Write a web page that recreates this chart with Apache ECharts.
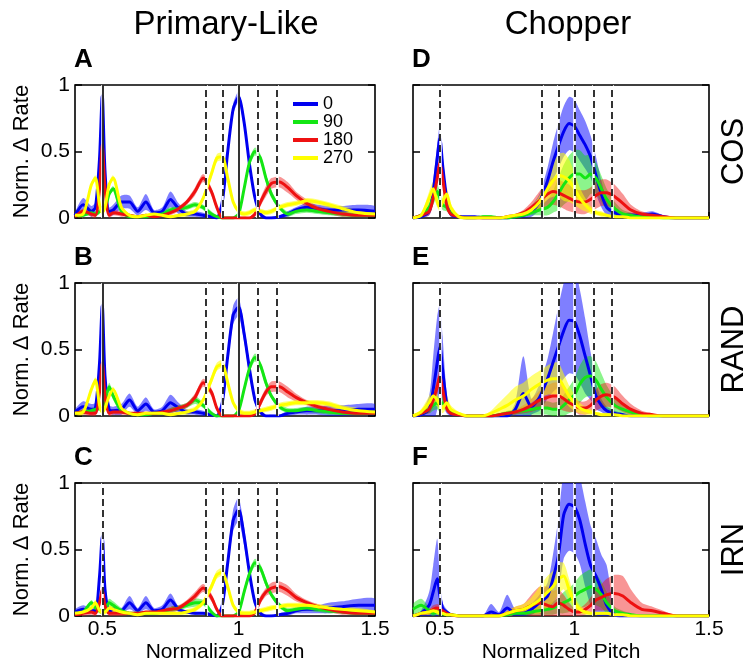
<!DOCTYPE html>
<html>
<head>
<meta charset="utf-8">
<script src="https://cdn.jsdelivr.net/npm/echarts@6/dist/echarts.min.js"></script>
<style>
    html, body { margin: 0; padding: 0; background: #fff; }
    #chart { width: 751px; height: 667px; }
</style>
</head>
<body>
<div id="chart"></div>
<script>
// normalized pitch sample points shared by every curve
const pitch = [
    0.40, 0.43, 0.46, 0.475, 0.49, 0.50, 0.51, 0.525, 0.54, 0.57,
    0.60, 0.63, 0.66, 0.69, 0.72, 0.75, 0.78, 0.81, 0.84, 0.87,
    0.90, 0.92, 0.94, 0.96, 0.98, 1.00, 1.02, 1.04, 1.06, 1.08,
    1.10, 1.12, 1.15, 1.18, 1.21, 1.25, 1.29, 1.33, 1.38, 1.44, 1.50,
]
const refPitches = [0.5, 0.875, 0.9375, 1, 1.0667, 1.1429]
const xTicks = [0.5, 1, 1.5]
const phases = ['0', '90', '180', '270']
const columnTitles = ['Primary-Like', 'Chopper']
const stimulusLabels = ['COS', 'RAND', 'IRN']
const panelKeys = ['A', 'B', 'C', 'D', 'E', 'F']

// --- Primary-Like, COS ---
const A_0 = [
    0.02, 0.10, 0.05, 0.08, 0.45, 0.92, 0.35, 0.05, 0.06, 0.12,
    0.12, 0.05, 0.12, 0.04, 0.05, 0.14, 0.07, 0.03, 0.03, 0.02,
    0.01, 0.00, 0.12, 0.50, 0.82, 0.91, 0.72, 0.40, 0.15, 0.03,
    0.00, 0.00, 0.01, 0.03, 0.06, 0.08, 0.07, 0.06, 0.06, 0.06, 0.05,
]
const A_0_err = [
    0.02, 0.05, 0.04, 0.04, 0.04, 0.04, 0.04, 0.03, 0.04, 0.05,
    0.05, 0.03, 0.06, 0.02, 0.03, 0.06, 0.04, 0.02, 0.02, 0.02,
    0.01, 0.01, 0.03, 0.04, 0.04, 0.04, 0.04, 0.04, 0.03, 0.02,
    0.01, 0.01, 0.01, 0.02, 0.02, 0.03, 0.03, 0.03, 0.03, 0.04, 0.04,
]
const A_90 = [
    0.02, 0.02, 0.04, 0.03, 0.05, 0.08, 0.08, 0.18, 0.22, 0.05,
    0.01, 0.01, 0.01, 0.02, 0.03, 0.06, 0.07, 0.08, 0.10, 0.08,
    0.03, 0.01, 0.00, 0.00, 0.00, 0.03, 0.22, 0.42, 0.50, 0.45,
    0.30, 0.18, 0.08, 0.03, 0.05, 0.06, 0.05, 0.04, 0.03, 0.02, 0.02,
]
const A_90_err = [
    0.01, 0.01, 0.02, 0.02, 0.02, 0.02, 0.02, 0.02, 0.02, 0.01,
    0.01, 0.01, 0.01, 0.01, 0.02, 0.02, 0.02, 0.02, 0.02, 0.02,
    0.02, 0.01, 0.01, 0.01, 0.01, 0.02, 0.03, 0.03, 0.03, 0.03,
    0.03, 0.03, 0.02, 0.02, 0.02, 0.02, 0.02, 0.02, 0.02, 0.01, 0.01,
]
const A_180 = [
    0.01, 0.05, 0.03, 0.02, 0.22, 0.55, 0.22, 0.02, 0.04, 0.03,
    0.02, 0.01, 0.02, 0.01, 0.02, 0.04, 0.07, 0.12, 0.20, 0.30,
    0.20, 0.08, 0.00, 0.00, 0.00, 0.00, 0.00, 0.00, 0.03, 0.12,
    0.20, 0.26, 0.27, 0.23, 0.17, 0.11, 0.07, 0.05, 0.03, 0.02, 0.02,
]
const A_180_err = [
    0.01, 0.02, 0.02, 0.02, 0.03, 0.03, 0.03, 0.02, 0.02, 0.02,
    0.01, 0.01, 0.01, 0.01, 0.01, 0.02, 0.02, 0.02, 0.03, 0.03,
    0.03, 0.02, 0.01, 0.01, 0.01, 0.01, 0.01, 0.01, 0.02, 0.03,
    0.04, 0.04, 0.04, 0.04, 0.03, 0.03, 0.02, 0.02, 0.02, 0.01, 0.01,
]
const A_270 = [
    0.02, 0.03, 0.25, 0.30, 0.10, 0.04, 0.08, 0.25, 0.30, 0.08,
    0.02, 0.01, 0.02, 0.03, 0.02, 0.01, 0.02, 0.03, 0.05, 0.15,
    0.33, 0.45, 0.46, 0.30, 0.12, 0.05, 0.03, 0.04, 0.06, 0.05,
    0.04, 0.05, 0.08, 0.10, 0.11, 0.13, 0.12, 0.10, 0.07, 0.04, 0.03,
]
const A_270_err = [
    0.01, 0.02, 0.02, 0.02, 0.02, 0.02, 0.02, 0.02, 0.02, 0.02,
    0.01, 0.01, 0.01, 0.01, 0.01, 0.01, 0.01, 0.02, 0.02, 0.02,
    0.03, 0.03, 0.03, 0.03, 0.02, 0.02, 0.02, 0.02, 0.02, 0.02,
    0.02, 0.02, 0.02, 0.02, 0.02, 0.02, 0.02, 0.02, 0.02, 0.02, 0.01,
]

// --- Primary-Like, RAND ---
const B_0 = [
    0.03, 0.07, 0.05, 0.06, 0.40, 0.83, 0.30, 0.05, 0.04, 0.05,
    0.12, 0.04, 0.09, 0.03, 0.04, 0.10, 0.06, 0.03, 0.03, 0.02,
    0.01, 0.00, 0.10, 0.45, 0.76, 0.82, 0.62, 0.35, 0.12, 0.03,
    0.00, 0.00, 0.00, 0.02, 0.03, 0.04, 0.04, 0.04, 0.04, 0.05, 0.05,
]
const B_0_err = [
    0.02, 0.04, 0.04, 0.04, 0.05, 0.05, 0.05, 0.03, 0.03, 0.04,
    0.05, 0.03, 0.05, 0.02, 0.03, 0.06, 0.04, 0.02, 0.02, 0.02,
    0.01, 0.01, 0.03, 0.05, 0.07, 0.07, 0.06, 0.05, 0.03, 0.02,
    0.01, 0.01, 0.01, 0.02, 0.02, 0.03, 0.03, 0.04, 0.04, 0.04, 0.04,
]
const B_90 = [
    0.02, 0.03, 0.04, 0.05, 0.06, 0.05, 0.10, 0.22, 0.15, 0.04,
    0.02, 0.01, 0.01, 0.02, 0.02, 0.04, 0.06, 0.08, 0.12, 0.08,
    0.02, 0.00, 0.00, 0.00, 0.00, 0.04, 0.20, 0.36, 0.44, 0.38,
    0.25, 0.15, 0.07, 0.04, 0.04, 0.05, 0.04, 0.03, 0.02, 0.02, 0.02,
]
const B_90_err = [
    0.01, 0.01, 0.02, 0.02, 0.02, 0.02, 0.02, 0.03, 0.03, 0.02,
    0.01, 0.01, 0.01, 0.01, 0.01, 0.02, 0.02, 0.02, 0.03, 0.02,
    0.02, 0.01, 0.01, 0.01, 0.01, 0.02, 0.03, 0.03, 0.03, 0.03,
    0.03, 0.02, 0.02, 0.02, 0.02, 0.02, 0.02, 0.02, 0.01, 0.01, 0.01,
]
const B_180 = [
    0.02, 0.03, 0.02, 0.02, 0.18, 0.40, 0.15, 0.02, 0.03, 0.03,
    0.02, 0.02, 0.02, 0.02, 0.03, 0.04, 0.06, 0.08, 0.14, 0.25,
    0.18, 0.06, 0.00, 0.00, 0.00, 0.00, 0.00, 0.00, 0.02, 0.10,
    0.18, 0.22, 0.22, 0.18, 0.14, 0.10, 0.07, 0.05, 0.03, 0.02, 0.02,
]
const B_180_err = [
    0.01, 0.02, 0.02, 0.02, 0.04, 0.04, 0.03, 0.02, 0.02, 0.02,
    0.01, 0.01, 0.01, 0.01, 0.01, 0.02, 0.02, 0.02, 0.03, 0.03,
    0.03, 0.02, 0.01, 0.01, 0.01, 0.01, 0.01, 0.01, 0.02, 0.03,
    0.03, 0.04, 0.04, 0.04, 0.03, 0.02, 0.02, 0.02, 0.02, 0.01, 0.01,
]
const B_270 = [
    0.02, 0.03, 0.20, 0.27, 0.08, 0.03, 0.06, 0.15, 0.20, 0.06,
    0.02, 0.01, 0.02, 0.02, 0.02, 0.01, 0.02, 0.03, 0.05, 0.12,
    0.27, 0.37, 0.39, 0.25, 0.10, 0.04, 0.02, 0.02, 0.03, 0.04,
    0.05, 0.06, 0.08, 0.09, 0.10, 0.10, 0.10, 0.09, 0.06, 0.04, 0.03,
]
const B_270_err = [
    0.01, 0.02, 0.02, 0.02, 0.02, 0.02, 0.02, 0.02, 0.02, 0.02,
    0.01, 0.01, 0.01, 0.01, 0.01, 0.01, 0.01, 0.02, 0.02, 0.02,
    0.03, 0.03, 0.03, 0.03, 0.02, 0.02, 0.02, 0.02, 0.02, 0.02,
    0.02, 0.02, 0.02, 0.02, 0.02, 0.02, 0.02, 0.02, 0.02, 0.02, 0.01,
]

// --- Primary-Like, IRN ---
const C_0 = [
    0.03, 0.05, 0.04, 0.04, 0.30, 0.60, 0.20, 0.03, 0.05, 0.04,
    0.10, 0.04, 0.10, 0.04, 0.05, 0.12, 0.05, 0.03, 0.02, 0.02,
    0.01, 0.00, 0.08, 0.40, 0.72, 0.80, 0.60, 0.32, 0.10, 0.02,
    0.00, 0.00, 0.01, 0.02, 0.04, 0.05, 0.05, 0.06, 0.07, 0.08, 0.08,
]
const C_0_err = [
    0.02, 0.03, 0.02, 0.03, 0.05, 0.05, 0.05, 0.02, 0.02, 0.02,
    0.05, 0.02, 0.05, 0.02, 0.03, 0.05, 0.02, 0.01, 0.01, 0.01,
    0.01, 0.01, 0.02, 0.05, 0.08, 0.09, 0.07, 0.04, 0.03, 0.02,
    0.01, 0.01, 0.01, 0.02, 0.02, 0.03, 0.03, 0.04, 0.04, 0.05, 0.05,
]
const C_90 = [
    0.02, 0.03, 0.10, 0.06, 0.04, 0.03, 0.05, 0.10, 0.08, 0.04,
    0.02, 0.02, 0.02, 0.02, 0.03, 0.05, 0.06, 0.08, 0.10, 0.10,
    0.03, 0.00, 0.00, 0.00, 0.00, 0.03, 0.18, 0.32, 0.40, 0.36,
    0.25, 0.16, 0.08, 0.04, 0.05, 0.06, 0.05, 0.04, 0.03, 0.02, 0.02,
]
const C_90_err = [
    0.01, 0.01, 0.02, 0.02, 0.02, 0.02, 0.02, 0.03, 0.03, 0.02,
    0.01, 0.01, 0.01, 0.01, 0.01, 0.02, 0.02, 0.02, 0.03, 0.02,
    0.02, 0.01, 0.01, 0.01, 0.01, 0.02, 0.03, 0.03, 0.03, 0.03,
    0.03, 0.02, 0.02, 0.02, 0.02, 0.02, 0.02, 0.02, 0.01, 0.01, 0.01,
]
const C_180 = [
    0.01, 0.02, 0.03, 0.02, 0.10, 0.20, 0.08, 0.02, 0.02, 0.02,
    0.02, 0.02, 0.03, 0.03, 0.04, 0.05, 0.06, 0.10, 0.15, 0.21,
    0.14, 0.05, 0.00, 0.00, 0.00, 0.00, 0.00, 0.00, 0.03, 0.12,
    0.18, 0.21, 0.22, 0.19, 0.14, 0.10, 0.07, 0.05, 0.03, 0.02, 0.02,
]
const C_180_err = [
    0.01, 0.02, 0.02, 0.02, 0.04, 0.04, 0.03, 0.02, 0.02, 0.02,
    0.01, 0.01, 0.01, 0.01, 0.01, 0.02, 0.02, 0.02, 0.03, 0.03,
    0.03, 0.02, 0.01, 0.01, 0.01, 0.01, 0.01, 0.01, 0.02, 0.03,
    0.03, 0.04, 0.04, 0.04, 0.03, 0.02, 0.02, 0.02, 0.02, 0.01, 0.01,
]
const C_270 = [
    0.02, 0.03, 0.06, 0.10, 0.04, 0.03, 0.03, 0.06, 0.05, 0.03,
    0.02, 0.01, 0.02, 0.02, 0.02, 0.02, 0.02, 0.03, 0.05, 0.10,
    0.22, 0.31, 0.33, 0.22, 0.08, 0.03, 0.02, 0.02, 0.03, 0.04,
    0.05, 0.06, 0.07, 0.08, 0.08, 0.08, 0.07, 0.06, 0.05, 0.04, 0.03,
]
const C_270_err = [
    0.01, 0.02, 0.02, 0.02, 0.02, 0.02, 0.02, 0.02, 0.02, 0.02,
    0.01, 0.01, 0.01, 0.01, 0.01, 0.01, 0.01, 0.02, 0.02, 0.02,
    0.03, 0.03, 0.03, 0.03, 0.02, 0.02, 0.02, 0.02, 0.02, 0.02,
    0.02, 0.02, 0.02, 0.02, 0.02, 0.02, 0.02, 0.02, 0.02, 0.02, 0.01,
]

// --- Chopper, COS ---
const D_0 = [
    0.00, 0.01, 0.05, 0.20, 0.45, 0.60, 0.40, 0.15, 0.03, 0.01,
    0.01, 0.01, 0.00, 0.00, 0.00, 0.00, 0.01, 0.02, 0.05, 0.12,
    0.28, 0.42, 0.54, 0.65, 0.71, 0.69, 0.62, 0.55, 0.46, 0.32,
    0.18, 0.08, 0.04, 0.02, 0.02, 0.02, 0.03, 0.01, 0.00, 0.00, 0.00,
]
const D_0_err = [
    0.00, 0.01, 0.03, 0.08, 0.10, 0.10, 0.08, 0.05, 0.02, 0.01,
    0.00, 0.00, 0.00, 0.00, 0.00, 0.00, 0.01, 0.02, 0.04, 0.06,
    0.10, 0.14, 0.17, 0.19, 0.20, 0.20, 0.19, 0.18, 0.16, 0.14,
    0.10, 0.06, 0.03, 0.02, 0.02, 0.02, 0.02, 0.01, 0.00, 0.00, 0.00,
]
const D_90 = [
    0.00, 0.02, 0.08, 0.15, 0.20, 0.15, 0.10, 0.08, 0.04, 0.01,
    0.00, 0.00, 0.01, 0.01, 0.00, 0.00, 0.01, 0.02, 0.04, 0.06,
    0.08, 0.12, 0.18, 0.25, 0.30, 0.33, 0.33, 0.30, 0.33, 0.30,
    0.22, 0.14, 0.07, 0.03, 0.02, 0.01, 0.01, 0.00, 0.00, 0.00, 0.00,
]
const D_90_err = [
    0.00, 0.01, 0.04, 0.05, 0.05, 0.05, 0.04, 0.03, 0.02, 0.01,
    0.00, 0.00, 0.01, 0.01, 0.00, 0.00, 0.01, 0.01, 0.02, 0.04,
    0.06, 0.08, 0.12, 0.15, 0.17, 0.18, 0.18, 0.17, 0.15, 0.12,
    0.10, 0.08, 0.05, 0.03, 0.02, 0.01, 0.01, 0.00, 0.00, 0.00, 0.00,
]
const D_180 = [
    0.00, 0.02, 0.05, 0.15, 0.30, 0.42, 0.30, 0.10, 0.03, 0.01,
    0.00, 0.00, 0.00, 0.00, 0.00, 0.01, 0.02, 0.04, 0.08, 0.13,
    0.18, 0.20, 0.19, 0.17, 0.15, 0.13, 0.12, 0.12, 0.14, 0.17,
    0.19, 0.19, 0.16, 0.11, 0.06, 0.03, 0.02, 0.01, 0.00, 0.00, 0.00,
]
const D_180_err = [
    0.00, 0.01, 0.03, 0.05, 0.06, 0.06, 0.05, 0.03, 0.01, 0.00,
    0.00, 0.00, 0.00, 0.00, 0.00, 0.01, 0.01, 0.02, 0.04, 0.07,
    0.09, 0.10, 0.10, 0.10, 0.10, 0.09, 0.09, 0.09, 0.09, 0.10,
    0.10, 0.10, 0.09, 0.07, 0.04, 0.02, 0.01, 0.01, 0.00, 0.00, 0.00,
]
const D_270 = [
    0.00, 0.02, 0.15, 0.22, 0.12, 0.08, 0.12, 0.18, 0.08, 0.01,
    0.00, 0.00, 0.00, 0.00, 0.00, 0.01, 0.02, 0.03, 0.06, 0.12,
    0.22, 0.28, 0.32, 0.31, 0.28, 0.22, 0.15, 0.10, 0.06, 0.04,
    0.03, 0.02, 0.01, 0.01, 0.00, 0.00, 0.00, 0.00, 0.00, 0.00, 0.00,
]
const D_270_err = [
    0.00, 0.01, 0.05, 0.05, 0.04, 0.03, 0.04, 0.05, 0.03, 0.01,
    0.00, 0.00, 0.00, 0.00, 0.00, 0.01, 0.01, 0.02, 0.03, 0.05,
    0.08, 0.12, 0.16, 0.18, 0.16, 0.12, 0.08, 0.05, 0.03, 0.02,
    0.02, 0.01, 0.01, 0.01, 0.00, 0.00, 0.00, 0.00, 0.00, 0.00, 0.00,
]

// --- Chopper, RAND ---
const E_0 = [
    0.00, 0.01, 0.05, 0.20, 0.40, 0.52, 0.35, 0.10, 0.02, 0.01,
    0.00, 0.00, 0.00, 0.00, 0.00, 0.00, 0.05, 0.17, 0.07, 0.14,
    0.28, 0.40, 0.52, 0.64, 0.72, 0.71, 0.60, 0.45, 0.30, 0.15,
    0.08, 0.04, 0.02, 0.01, 0.00, 0.00, 0.00, 0.00, 0.00, 0.00, 0.00,
]
const E_0_err = [
    0.00, 0.02, 0.10, 0.25, 0.35, 0.32, 0.25, 0.08, 0.02, 0.01,
    0.00, 0.00, 0.00, 0.00, 0.00, 0.00, 0.05, 0.28, 0.06, 0.10,
    0.15, 0.22, 0.30, 0.36, 0.40, 0.40, 0.35, 0.28, 0.18, 0.10,
    0.05, 0.03, 0.02, 0.01, 0.00, 0.00, 0.00, 0.00, 0.00, 0.00, 0.00,
]
const E_90 = [
    0.00, 0.02, 0.05, 0.08, 0.10, 0.08, 0.10, 0.08, 0.04, 0.01,
    0.00, 0.00, 0.00, 0.00, 0.01, 0.02, 0.03, 0.04, 0.05, 0.06,
    0.06, 0.05, 0.05, 0.08, 0.12, 0.16, 0.24, 0.29, 0.30, 0.27,
    0.20, 0.14, 0.08, 0.05, 0.03, 0.01, 0.00, 0.00, 0.00, 0.00, 0.00,
]
const E_90_err = [
    0.00, 0.01, 0.03, 0.04, 0.05, 0.05, 0.05, 0.04, 0.02, 0.01,
    0.00, 0.00, 0.00, 0.00, 0.01, 0.02, 0.02, 0.03, 0.04, 0.05,
    0.05, 0.05, 0.06, 0.08, 0.10, 0.12, 0.14, 0.15, 0.15, 0.14,
    0.12, 0.09, 0.06, 0.04, 0.02, 0.01, 0.00, 0.00, 0.00, 0.00, 0.00,
]
const E_180 = [
    0.00, 0.02, 0.05, 0.12, 0.22, 0.30, 0.20, 0.06, 0.02, 0.01,
    0.00, 0.00, 0.00, 0.00, 0.01, 0.02, 0.03, 0.05, 0.08, 0.12,
    0.14, 0.15, 0.15, 0.13, 0.10, 0.08, 0.06, 0.06, 0.08, 0.12,
    0.15, 0.16, 0.14, 0.09, 0.05, 0.02, 0.01, 0.00, 0.00, 0.00, 0.00,
]
const E_180_err = [
    0.00, 0.01, 0.03, 0.05, 0.06, 0.06, 0.05, 0.03, 0.01, 0.01,
    0.00, 0.00, 0.00, 0.00, 0.01, 0.01, 0.02, 0.03, 0.05, 0.07,
    0.09, 0.10, 0.10, 0.09, 0.07, 0.05, 0.05, 0.05, 0.06, 0.08,
    0.09, 0.09, 0.08, 0.06, 0.04, 0.02, 0.01, 0.00, 0.00, 0.00, 0.00,
]
const E_270 = [
    0.00, 0.03, 0.10, 0.15, 0.12, 0.08, 0.06, 0.10, 0.05, 0.02,
    0.00, 0.00, 0.00, 0.02, 0.05, 0.08, 0.12, 0.15, 0.20, 0.24,
    0.27, 0.28, 0.28, 0.22, 0.15, 0.10, 0.06, 0.04, 0.03, 0.02,
    0.01, 0.01, 0.01, 0.00, 0.00, 0.00, 0.00, 0.00, 0.00, 0.00, 0.00,
]
const E_270_err = [
    0.00, 0.02, 0.05, 0.06, 0.05, 0.04, 0.04, 0.05, 0.03, 0.01,
    0.00, 0.00, 0.00, 0.02, 0.05, 0.08, 0.10, 0.10, 0.10, 0.10,
    0.11, 0.12, 0.12, 0.10, 0.08, 0.06, 0.04, 0.03, 0.02, 0.01,
    0.01, 0.01, 0.01, 0.00, 0.00, 0.00, 0.00, 0.00, 0.00, 0.00, 0.00,
]

// --- Chopper, IRN ---
const F_0 = [
    0.00, 0.02, 0.08, 0.18, 0.28, 0.15, 0.06, 0.03, 0.01, 0.00,
    0.00, 0.00, 0.00, 0.03, 0.01, 0.06, 0.02, 0.02, 0.05, 0.10,
    0.15, 0.28, 0.45, 0.76, 0.84, 0.82, 0.72, 0.54, 0.38, 0.30,
    0.20, 0.08, 0.01, 0.00, 0.00, 0.00, 0.00, 0.00, 0.00, 0.00, 0.00,
]
const F_0_err = [
    0.00, 0.02, 0.10, 0.20, 0.30, 0.12, 0.04, 0.02, 0.01, 0.00,
    0.00, 0.00, 0.00, 0.06, 0.02, 0.10, 0.03, 0.02, 0.04, 0.06,
    0.10, 0.18, 0.28, 0.33, 0.35, 0.35, 0.33, 0.32, 0.30, 0.28,
    0.26, 0.30, 0.02, 0.00, 0.00, 0.00, 0.00, 0.00, 0.00, 0.00, 0.00,
]
const F_90 = [
    0.05, 0.08, 0.04, 0.02, 0.03, 0.02, 0.02, 0.01, 0.01, 0.00,
    0.00, 0.00, 0.00, 0.00, 0.00, 0.01, 0.02, 0.02, 0.03, 0.04,
    0.05, 0.06, 0.08, 0.10, 0.12, 0.15, 0.18, 0.20, 0.22, 0.20,
    0.16, 0.10, 0.04, 0.02, 0.01, 0.00, 0.00, 0.00, 0.00, 0.00, 0.00,
]
const F_90_err = [
    0.04, 0.05, 0.03, 0.02, 0.02, 0.02, 0.02, 0.01, 0.01, 0.00,
    0.00, 0.00, 0.00, 0.00, 0.00, 0.01, 0.01, 0.01, 0.02, 0.03,
    0.04, 0.05, 0.06, 0.08, 0.09, 0.10, 0.12, 0.13, 0.13, 0.12,
    0.10, 0.08, 0.03, 0.02, 0.01, 0.00, 0.00, 0.00, 0.00, 0.00, 0.00,
]
const F_180 = [
    0.00, 0.02, 0.03, 0.05, 0.06, 0.05, 0.04, 0.02, 0.01, 0.00,
    0.00, 0.00, 0.00, 0.00, 0.00, 0.02, 0.04, 0.05, 0.08, 0.10,
    0.08, 0.07, 0.10, 0.08, 0.05, 0.03, 0.03, 0.05, 0.08, 0.12,
    0.14, 0.16, 0.17, 0.15, 0.10, 0.05, 0.04, 0.02, 0.00, 0.00, 0.00,
]
const F_180_err = [
    0.00, 0.01, 0.02, 0.03, 0.03, 0.03, 0.02, 0.01, 0.01, 0.00,
    0.00, 0.00, 0.00, 0.00, 0.00, 0.02, 0.03, 0.04, 0.08, 0.12,
    0.14, 0.12, 0.10, 0.08, 0.05, 0.03, 0.03, 0.04, 0.06, 0.08,
    0.10, 0.12, 0.14, 0.15, 0.10, 0.05, 0.03, 0.02, 0.00, 0.00, 0.00,
]
const F_270 = [
    0.00, 0.02, 0.03, 0.04, 0.03, 0.02, 0.02, 0.01, 0.01, 0.00,
    0.00, 0.00, 0.00, 0.00, 0.00, 0.02, 0.04, 0.05, 0.08, 0.12,
    0.18, 0.22, 0.28, 0.30, 0.20, 0.10, 0.05, 0.03, 0.02, 0.02,
    0.02, 0.02, 0.01, 0.01, 0.00, 0.00, 0.00, 0.00, 0.00, 0.00, 0.00,
]
const F_270_err = [
    0.00, 0.01, 0.02, 0.02, 0.02, 0.01, 0.01, 0.01, 0.01, 0.00,
    0.00, 0.00, 0.00, 0.00, 0.00, 0.02, 0.03, 0.04, 0.06, 0.10,
    0.12, 0.12, 0.12, 0.10, 0.08, 0.05, 0.03, 0.02, 0.01, 0.01,
    0.01, 0.01, 0.01, 0.01, 0.00, 0.00, 0.00, 0.00, 0.00, 0.00, 0.00,
]

const panelCurves = [
    [[A_0, A_0_err], [A_90, A_90_err], [A_180, A_180_err], [A_270, A_270_err]],
    [[B_0, B_0_err], [B_90, B_90_err], [B_180, B_180_err], [B_270, B_270_err]],
    [[C_0, C_0_err], [C_90, C_90_err], [C_180, C_180_err], [C_270, C_270_err]],
    [[D_0, D_0_err], [D_90, D_90_err], [D_180, D_180_err], [D_270, D_270_err]],
    [[E_0, E_0_err], [E_90, E_90_err], [E_180, E_180_err], [E_270, E_270_err]],
    [[F_0, F_0_err], [F_90, F_90_err], [F_180, F_180_err], [F_270, F_270_err]],
]

const FONT = '"Liberation Sans", Arial, Helvetica, sans-serif'
const lineColors = ['#0000f0', '#14e614', '#ee1111', '#ffff00']
const bandColors = ['rgba(0,0,255,0.5)', 'rgba(0,230,0,0.45)', 'rgba(240,20,20,0.45)', 'rgba(255,255,0,0.55)']
const panelLefts = [75, 413]
const panelTops = [85, 283, 483]
const panelWidth = 300
const panelHeight = 133
// in the top two Primary-Like panels the 0.5 and 1 guides are solid
const solidGuides = { A: [0.5, 1], B: [0.5, 1] }

const chart = echarts.init(document.getElementById('chart'))

const grids = []
const xAxes = []
const yAxes = []
const series = []
const graphics = []

panelKeys.forEach((key, p) => {
    const col = Math.floor(p / 3)
    const row = p % 3
    const isLeft = col === 0
    const isBottom = row === 2

    grids.push({
        left: panelLefts[col],
        top: panelTops[row],
        width: panelWidth,
        height: panelHeight,
        show: true,
        borderColor: '#000',
        borderWidth: 1.6,
        backgroundColor: 'transparent',
    })

    xAxes.push({
        gridIndex: p,
        type: 'value',
        min: 0.4,
        max: 1.5,
        axisLine: { show: false },
        axisTick: { show: true, inside: true, length: 6, customValues: xTicks, lineStyle: { color: '#000', width: 1.5 } },
        axisLabel: { show: isBottom, customValues: xTicks, color: '#000', fontSize: 21, fontFamily: FONT, margin: 3 },
        splitLine: { show: false },
        name: isBottom ? 'Normalized Pitch' : '',
        nameLocation: 'middle',
        nameGap: 26,
        nameTextStyle: { color: '#000', fontSize: 21, fontFamily: FONT },
    })

    yAxes.push({
        gridIndex: p,
        type: 'value',
        min: 0,
        max: 1,
        interval: 0.5,
        position: 'left',
        axisLine: { show: false },
        axisTick: { show: true, inside: true, length: 7, lineStyle: { color: '#000', width: 1.5 } },
        axisLabel: { show: isLeft, color: '#000', fontSize: 21, fontFamily: FONT, margin: 5 },
        splitLine: { show: false },
        name: isLeft ? 'Norm. Δ Rate' : '',
        nameLocation: 'middle',
        nameGap: 42,
        nameTextStyle: { color: '#000', fontSize: 22, fontFamily: FONT },
    })
    yAxes.push({
        gridIndex: p,
        type: 'value',
        min: 0,
        max: 1,
        interval: 0.5,
        position: 'right',
        axisLine: { show: false },
        axisTick: { show: true, inside: true, length: 7, lineStyle: { color: '#000', width: 1.5 } },
        axisLabel: { show: false },
        splitLine: { show: false },
        name: isLeft ? '' : stimulusLabels[row],
        nameLocation: 'middle',
        nameRotate: 90,
        nameGap: 10,
        nameTextStyle: { color: '#000', fontSize: 31, fontFamily: FONT },
    })

    const curves = panelCurves[p]

    // shaded error bands
    curves.forEach(([mean, err], k) => {
        series.push({
            type: 'custom',
            name: phases[k] + ' band',
            xAxisIndex: p,
            yAxisIndex: p * 2,
            clip: true,
            silent: true,
            z: 1,
            data: pitch.map((x, i) => [x, mean[i] - err[i], mean[i] + err[i]]),
            encode: { x: 0, y: [1, 2] },
            renderItem(params, api) {
                if (params.dataIndex !== 0) {
                    return
                }
                const upper = pitch.map((x, i) => api.coord([x, mean[i] + err[i]]))
                const lower = pitch.map((x, i) => api.coord([x, mean[i] - err[i]])).reverse()
                return {
                    type: 'polygon',
                    shape: { points: upper.concat(lower), smooth: 0.25 },
                    style: { fill: bandColors[k] },
                }
            },
        })
    })

    // mean curves
    curves.forEach(([mean], k) => {
        series.push({
            type: 'line',
            name: phases[k],
            xAxisIndex: p,
            yAxisIndex: p * 2,
            data: pitch.map((x, i) => [x, mean[i]]),
            showSymbol: false,
            symbol: 'none',
            smooth: 0.25,
            clip: true,
            silent: true,
            z: 2,
            lineStyle: { color: lineColors[k], width: 3 },
            itemStyle: { color: lineColors[k] },
        })
    })

    // vertical guides: white under-stroke, black dashes on top
    const solid = solidGuides[key] || []
    series.push({
        type: 'line',
        xAxisIndex: p,
        yAxisIndex: p * 2,
        data: [],
        silent: true,
        markLine: {
            silent: true,
            animation: false,
            symbol: ['none', 'none'],
            label: { show: false },
            lineStyle: { color: '#fff', width: 2.5, type: 'solid' },
            data: refPitches.map(v => ({ xAxis: v })),
        },
    })
    series.push({
        type: 'line',
        xAxisIndex: p,
        yAxisIndex: p * 2,
        data: [],
        silent: true,
        markLine: {
            silent: true,
            animation: false,
            symbol: ['none', 'none'],
            label: { show: false },
            data: refPitches.map(v => ({
                xAxis: v,
                lineStyle: { color: '#000', width: 1.6, type: solid.includes(v) ? 'solid' : [7, 4] },
            })),
        },
    })

    graphics.push({
        type: 'text',
        x: panelLefts[col] - 1,
        y: panelTops[row] - 25,
        style: {
            text: key,
            fill: '#000',
            font: 'bold 26px ' + FONT,
            align: 'left',
            verticalAlign: 'middle',
        },
    })
})

columnTitles.forEach((t, c) => {
    graphics.push({
        type: 'text',
        x: [226, 568][c],
        y: 25,
        style: {
            text: t,
            fill: '#000',
            font: '33px ' + FONT,
            align: 'center',
            verticalAlign: 'middle',
        },
    })
})

chart.setOption({
    animation: false,
    backgroundColor: '#fff',
    grid: grids,
    xAxis: xAxes,
    yAxis: yAxes,
    series,
    graphic: graphics,
    legend: {
        data: phases.map(n => ({ name: n, icon: 'rect' })),
        orient: 'vertical',
        left: 293,
        top: 95,
        padding: 0,
        itemGap: 0,
        itemWidth: 25,
        itemHeight: 4,
        selectedMode: false,
        textStyle: { color: '#000', fontSize: 18, fontFamily: FONT, lineHeight: 17 },
    },
})

window.addEventListener('resize', () => chart.resize())
</script>
</body>
</html>
